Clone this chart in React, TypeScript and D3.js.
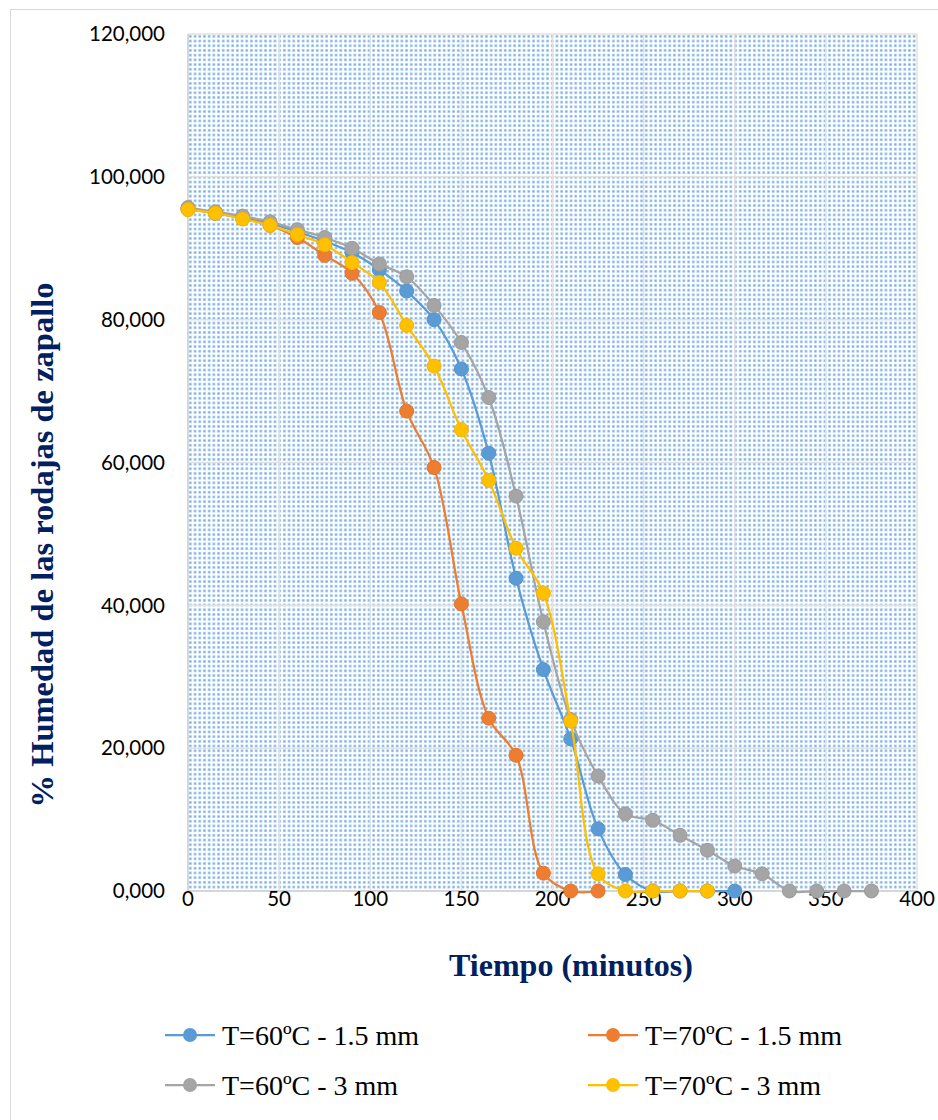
import React from "react";
import * as d3 from "d3";

const times = [0, 15, 30, 45, 60, 75, 90, 105, 120, 135, 150, 165, 180, 195, 210, 225, 240, 255, 270, 285, 300, 315, 330, 345, 360, 375];

const blue60_15 = [95.5, 94.9, 94.2, 93.5, 92.3, 91.0, 89.4, 87.0, 84.0, 80.0, 73.1, 61.3, 43.8, 31.0, 21.3, 8.7, 2.3, 0, 0, 0, 0];
const orange70_15 = [95.5, 95.0, 94.2, 93.2, 91.5, 89.0, 86.5, 81.0, 67.2, 59.3, 40.2, 24.2, 19.0, 2.5, 0, 0];
const gray60_3 = [95.7, 95.1, 94.5, 93.7, 92.6, 91.5, 90.0, 87.8, 86.0, 82.0, 76.8, 69.1, 55.3, 37.7, 24.0, 16.1, 10.8, 9.9, 7.8, 5.7, 3.5, 2.4, 0, 0, 0, 0];
const yellow70_3 = [95.4, 94.9, 94.1, 93.2, 91.9, 90.5, 88.0, 85.2, 79.2, 73.5, 64.6, 57.5, 48.0, 41.7, 23.8, 2.4, 0, 0, 0, 0];

const seriesNames = ["T=60ºC - 1.5 mm", "T=70ºC - 1.5 mm", "T=60ºC - 3 mm", "T=70ºC - 3 mm"];
const seriesValues = [blue60_15, orange70_15, gray60_3, yellow70_3];
const seriesColors = ["#5B9BD5", "#ED7D31", "#A5A5A5", "#FFC000"];

const xTicks = [0, 50, 100, 150, 200, 250, 300, 350, 400];
const yTicks = [0, 20, 40, 60, 80, 100, 120];

const W = 938;
const H = 1120;
const plot = { left: 188, right: 917, top: 34, bottom: 891 };

export default function App() {
  const x = d3.scaleLinear().domain([0, 400]).range([plot.left, plot.right]);
  const y = d3.scaleLinear().domain([0, 120]).range([plot.bottom, plot.top]);
  const line = d3
    .line<[number, number]>()
    .x((d) => x(d[0]))
    .y((d) => y(d[1]))
    .curve(d3.curveCatmullRom.alpha(0.5));

  const fmt = (v: number) => v.toFixed(3).replace(".", ",");
  const titleColor = "#002060";

  const legendItems = seriesNames.map((name, i) => ({
    name,
    color: seriesColors[i],
    lx: i % 2 === 0 ? 165 : 588,
    ly: i < 2 ? 1035 : 1085,
  }));

  return (
    <svg
      width={W}
      height={H}
      style={{ position: "absolute", left: 0, top: 0, background: "#fff" }}
    >
      <defs>
        <pattern id="dots" width={4.7} height={4.7} patternUnits="userSpaceOnUse" x={plot.left} y={plot.top}>
          <rect width={4.7} height={4.7} fill="#ffffff" />
          <rect x={0.9} y={0.9} width={2.9} height={2.9} fill="#c2daf1" />
          <rect x={1.5} y={1.5} width={1.7} height={1.7} fill="#6aa5de" />
        </pattern>
      </defs>
      <rect x={10.5} y={9.5} width={W} height={H} fill="#fff" stroke="#d9d9d9" strokeWidth={1} />

      <rect
        x={plot.left}
        y={plot.top}
        width={plot.right - plot.left}
        height={plot.bottom - plot.top}
        fill="url(#dots)"
      />

      {/* gridlines */}
      {yTicks.map((t) => (
        <line key={"gy" + t} x1={plot.left} x2={plot.right} y1={y(t)} y2={y(t)} stroke="#e2e2e2" strokeWidth={1.5} />
      ))}
      {xTicks.map((t) => (
        <line key={"gx" + t} x1={x(t)} x2={x(t)} y1={plot.top} y2={plot.bottom} stroke="#e2e2e2" strokeWidth={1.5} />
      ))}
      <line x1={plot.left} x2={plot.right} y1={plot.bottom} y2={plot.bottom} stroke="#d0d0d0" strokeWidth={1.5} />
      <line x1={plot.left} x2={plot.left} y1={plot.top} y2={plot.bottom} stroke="#d0d0d0" strokeWidth={1.5} />

      {/* tick labels */}
      {yTicks.map((t) => (
        <text
          key={"ty" + t}
          x={165}
          y={y(t)}
          dy="0.35em"
          textAnchor="end"
          fontFamily="Lato, 'Open Sans', sans-serif"
          fontSize={20.5}
          fill="#000"
        >
          {fmt(t)}
        </text>
      ))}
      {xTicks.map((t) => (
        <text
          key={"tx" + t}
          x={x(t)}
          y={906}
          textAnchor="middle"
          fontFamily="Lato, 'Open Sans', sans-serif"
          fontSize={20.5}
          fill="#000"
        >
          {t}
        </text>
      ))}

      {/* series */}
      {seriesValues.map((vals, i) => {
        const pts: [number, number][] = vals.map((v, j) => [times[j], v]);
        return (
          <g key={"s" + i}>
            <path d={line(pts) || ""} fill="none" stroke={seriesColors[i]} strokeWidth={2.25} />
            {pts.map((p, j) => (
              <circle
                key={j}
                cx={x(p[0])}
                cy={y(p[1])}
                r={7}
                fill={seriesColors[i]}
                stroke={d3.color(seriesColors[i])!.darker(0.15).toString()}
                strokeWidth={1}
              />
            ))}
          </g>
        );
      })}

      {/* axis titles */}
      <text
        x={571}
        y={976}
        textAnchor="middle"
        fontFamily="'Liberation Serif', 'Times New Roman', serif"
        fontWeight="bold"
        fontSize={32}
        fill={titleColor}
      >
        Tiempo (minutos)
      </text>
      <text
        transform={`translate(53,545) rotate(-90)`}
        textAnchor="middle"
        fontFamily="'Liberation Serif', 'Times New Roman', serif"
        fontWeight="bold"
        fontSize={32.5}
        fill={titleColor}
      >
        % Humedad de las rodajas de zapallo
      </text>

      {/* legend */}
      {legendItems.map((it) => (
        <g key={it.name}>
          <line x1={it.lx} x2={it.lx + 50} y1={it.ly} y2={it.ly} stroke={it.color} strokeWidth={2.25} />
          <circle cx={it.lx + 25} cy={it.ly} r={7} fill={it.color} />
          <text
            x={it.lx + 57}
            y={it.ly}
            dy="0.35em"
            fontFamily="'Liberation Serif', 'Times New Roman', serif"
            fontSize={28}
            fill="#000"
          >
            {it.name}
          </text>
        </g>
      ))}
    </svg>
  );
}
